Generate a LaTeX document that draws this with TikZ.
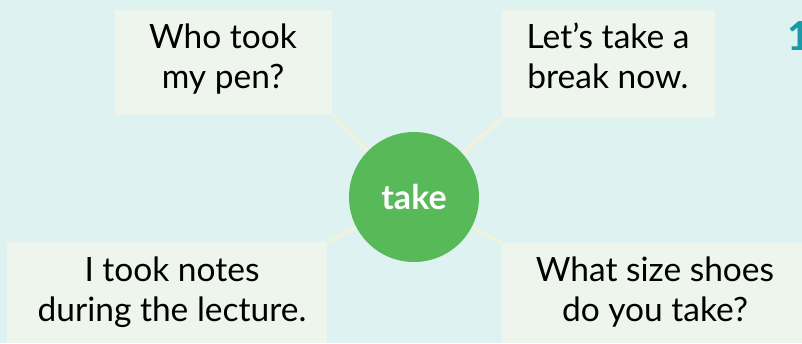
\documentclass[tikz,border=0pt]{standalone}
\usepackage{fontspec}
\setmainfont{Lato}
\definecolor{bgc}{HTML}{DFF2F2}
\definecolor{boxc}{HTML}{EDF5EC}
\definecolor{linec}{HTML}{EFF3DE}
\definecolor{greenc}{HTML}{57B957}
\definecolor{tealc}{HTML}{1A9AA8}
\tikzset{
  card/.style={fill=boxc, draw=none, inner sep=0, anchor=north west},
  cardtext/.style={align=center, inner sep=0, anchor=base, font=\fontsize{33.5}{40}\selectfont, text=black},
  spoke/.style={draw=linec, line width=4pt},
  hub/.style={circle, fill=greenc, minimum size=130pt, inner sep=0, text=white, font=\bfseries\fontsize{34}{38}\selectfont},
}
\begin{document}
\begin{tikzpicture}[x=1pt,y=-1pt]
\useasboundingbox (0,0) rectangle (802,343);
\fill[bgc] (0,0) rectangle (802,343);
\begin{scope}
\clip (0,0) rectangle (802,343);
\node[card, minimum width=217pt, minimum height=105pt] (b1) at (115,10) {};
\node[card, minimum width=213pt, minimum height=108pt] (b2) at (502,10) {};
\node[card, minimum width=320pt, minimum height=101pt] (b3) at (7,242) {};
\node[card, minimum width=300pt, minimum height=100pt] (b4) at (502,243) {};
\coordinate (hc) at (414,197);
\draw[spoke] (hc) -- (b1.south east);
\draw[spoke] (hc) -- (b2.south west);
\draw[spoke] (hc) -- (b3.north east);
\draw[spoke] (hc) -- (b4.north west);
\node[hub] (hub) at (hc) {take};
\node[cardtext] (t1) at (223,88) {Who took\\my pen?};
\node[cardtext] (t2) at (608,88) {Let’s take a\\break now.};
\node[cardtext] (t3) at (172,321) {I took notes\\during the lecture.};
\node[cardtext] (t4) at (655,321) {What size shoes\\do you take?};
\node[anchor=base west, inner sep=0, text=tealc, font=\bfseries\fontsize{40}{44}\selectfont] (num) at (787,50) {1};
\end{scope}
\end{tikzpicture}
\end{document}
